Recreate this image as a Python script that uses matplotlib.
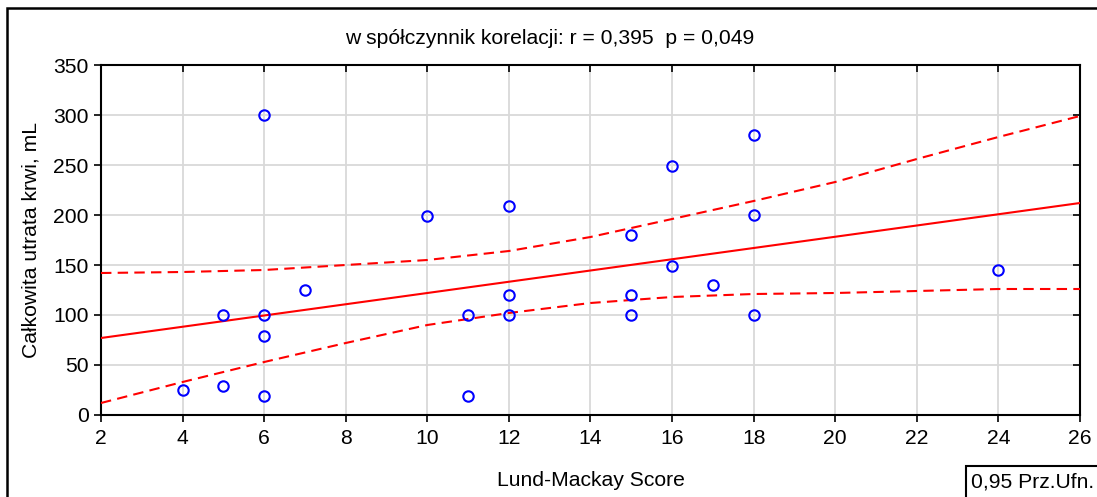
#!/usr/bin/env python3
"""Blood loss vs Lund-Mackay score scatter with regression and 95% band"""
import numpy as np
import matplotlib
matplotlib.use('Agg')
import matplotlib.pyplot as plt
from matplotlib.patches import Rectangle

plt.rcParams['font.family'] = ['Liberation Sans', 'DejaVu Sans']

# Patient data: Lund-Mackay score vs total blood loss (mL)
lm_score = [4, 5, 5, 6, 6, 6, 6, 7, 10, 11, 11, 12, 12, 12,
            15, 15, 15, 16, 16, 17, 18, 18, 18, 24]
blood_loss = [25, 100, 29, 300, 100, 79, 19, 125, 199, 100, 19, 209, 120, 100,
              180, 120, 100, 249, 149, 130, 280, 200, 100, 145]

# Fitted line end points
fit_x = [2, 26]
fit_y = [77, 212]

# 0.95 confidence band
band_x = [2, 4, 6, 8, 10, 12, 14, 16, 18, 20, 22, 24, 26]
band_hi = [142, 143, 145, 150, 155, 164, 178, 196, 214, 233, 256, 278, 299]
band_lo = [12, 33, 53, 72, 90, 102, 112, 118, 121, 122, 124, 126, 126]

FS = 15.2
W, H = 1097, 497
fig = plt.figure(figsize=(W / 100, H / 100), dpi=100)
ax = fig.add_axes([101 / W, 1 - 415 / H, (1080 - 101) / W, (415 - 65) / H])

ax.grid(True, color='#d9d9d9', linewidth=1.3, zorder=0)
ax.set_axisbelow(True)

ax.plot(fit_x, fit_y, color='red', linewidth=1.5, zorder=3)
ax.plot(band_x, band_hi, color='red', linewidth=1.5, dashes=(5, 3), zorder=3)
ax.plot(band_x, band_lo, color='red', linewidth=1.5, dashes=(5, 3), zorder=3)
ax.plot(lm_score, blood_loss, linestyle='none', marker='o', markersize=7.5,
        markerfacecolor='none', markeredgecolor='blue', markeredgewidth=1.5,
        zorder=4)

ax.set_xlim(2, 26)
ax.set_ylim(0, 350)
ax.set_xticks(range(2, 27, 2))
ax.set_yticks(range(0, 351, 50))
ax.tick_params(axis='both', labelsize=FS, length=5, width=1.2, direction='out')
ax.tick_params(axis='x', pad=5)
ax.tick_params(axis='y', pad=4)
ax.tick_params(top=True, right=True)
for t in ax.xaxis.get_major_ticks():
    t.tick2line.set_marker(3)
for t in ax.yaxis.get_major_ticks():
    t.tick2line.set_marker(0)
for sp in ax.spines.values():
    sp.set_linewidth(1.5)

ax.set_xlabel('Lund-Mackay Score', fontsize=FS, labelpad=17)
ax.set_ylabel('Całkowita utrata krwi, mL', fontsize=FS, labelpad=9)

fig.text(550 / W, 1 - 38 / H, 'w spółczynnik korelacji: r = 0,395  p = 0,049',
         ha='center', va='center', fontsize=FS)

# outer frame and confidence legend box
fig.patches.append(Rectangle((7 / W, -0.1), 1.2, 1.1 - 8 / H, fill=False,
                             edgecolor='black', linewidth=1.8,
                             transform=fig.transFigure, figure=fig))
fig.patches.append(Rectangle((966 / W, -0.1), 0.5, 0.1 + 31 / H, fill=False,
                             edgecolor='black', linewidth=1.5,
                             transform=fig.transFigure, figure=fig))
fig.text(971 / W, 1 - 482 / H, '0,95 Prz.Ufn.', ha='left', va='center',
         fontsize=FS)

fig.savefig('out.png', dpi=100)
